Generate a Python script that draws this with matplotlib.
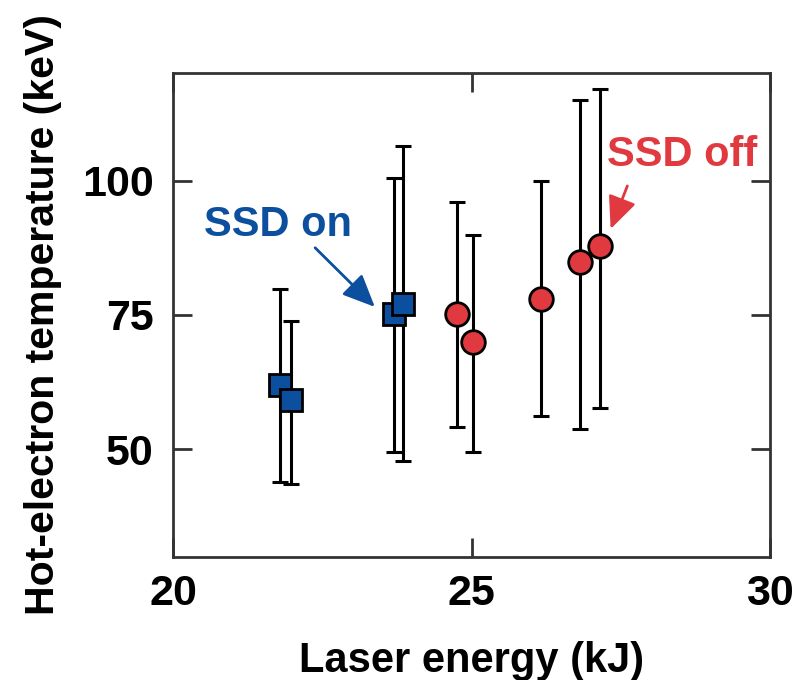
import numpy as np
import matplotlib.pyplot as plt

plt.rcParams["font.family"] = ["Liberation Sans", "DejaVu Sans"]
plt.rcParams["font.weight"] = "bold"

# SSD on (blue squares)
on_energy = [21.79, 21.98, 23.70, 23.85]
on_temp   = [62.0, 59.1, 75.1, 77.1]
on_hi     = [79.8, 73.8, 100.4, 106.4]
on_lo     = [44.0, 43.6, 49.6, 47.8]

# SSD off (red circles)
off_energy = [24.76, 25.02, 26.16, 26.82, 27.15]
off_temp   = [75.1, 70.0, 78.0, 84.8, 87.8]
off_hi     = [96.1, 89.8, 100.0, 115.0, 117.0]
off_lo     = [54.1, 49.5, 56.2, 53.7, 57.7]

blue = "#0b4f9e"
red  = "#e03a40"

fig = plt.figure(figsize=(8.07, 6.80), dpi=100)
ax = fig.add_axes([0.2144, 0.181, 0.7398, 0.7116])

def draw(x, y, lo, hi, marker, color, ms):
    x, y, lo, hi = map(np.asarray, (x, y, lo, hi))
    ax.errorbar(x, y, yerr=[y - lo, hi - y], fmt="none", ecolor="black",
                elinewidth=2.2, capsize=5.5, capthick=2.2, zorder=2)
    for xi, yi in zip(x, y):
        ax.plot(xi, yi, marker=marker, color=color, markersize=ms,
                markeredgecolor="black", markeredgewidth=2.0, linestyle="none", zorder=3)

draw(on_energy, on_temp, on_lo, on_hi, "s", blue, 15.5)
draw(off_energy, off_temp, off_lo, off_hi, "o", red, 17)

ax.set_xlim(20, 30)
ax.set_ylim(30, 120)
ax.set_xticks([20, 25, 30])
ax.set_yticks([50, 75, 100])

for side in ("top", "bottom", "left", "right"):
    ax.spines[side].set_linewidth(2)
    ax.spines[side].set_color("#333333")

ax.tick_params(direction="in", length=14, width=2, color="#333333",
               top=True, right=True, labelsize=31)
ax.tick_params(axis="y", pad=14)
ax.tick_params(axis="x", pad=12)
for lab in ax.get_xticklabels() + ax.get_yticklabels():
    lab.set_fontweight("bold")

ax.set_xlabel("Laser energy (kJ)", fontsize=30, fontweight="bold", labelpad=20)
ax.set_ylabel("Hot-electron temperature (keV)", fontsize=29.5, fontweight="bold", labelpad=14)

ax.text(21.76, 91.8, "SSD on", fontsize=30, fontweight="bold", color=blue,
        ha="center", va="center")
ax.text(28.52, 104.8, "SSD off", fontsize=30, fontweight="bold", color=red,
        ha="center", va="center")

arrow = dict(arrowstyle="-|>,head_length=0.9,head_width=0.4", lw=2,
             mutation_scale=22, shrinkA=0, shrinkB=0)
ax.annotate("", xy=(23.38, 76.5), xytext=(22.38, 87.5),
            arrowprops=dict(arrow, color=blue))
ax.annotate("", xy=(27.33, 91.0), xytext=(27.61, 99.0),
            arrowprops=dict(arrow, color=red))

fig.savefig("out.png", dpi=100)
